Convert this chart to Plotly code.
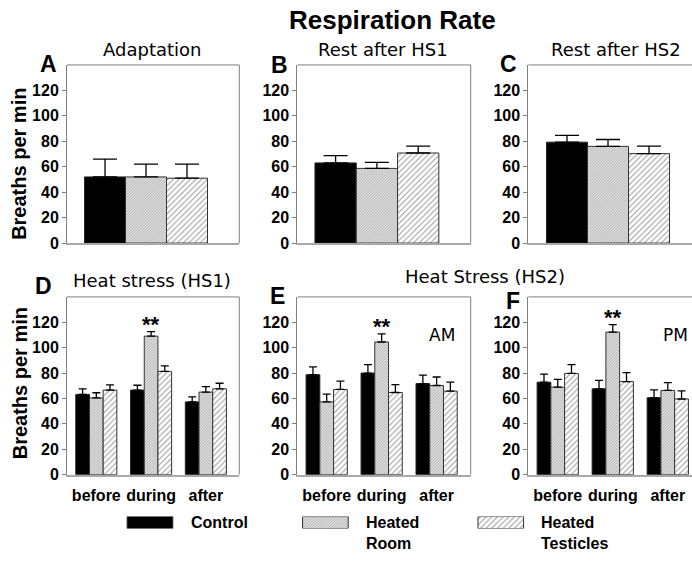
import plotly.graph_objects as go

# ---------------- data ----------------
series_names = ["Control", "Heated<br>Room", "Heated<br>Testicles"]
periods = ["before", "during", "after"]

# top row panels (single group): means and upper SEM
adapt_mean = [52.0, 52.0, 51.0]
adapt_err = [14.0, 10.0, 11.0]
rest1_mean = [63.0, 58.7, 70.8]
rest1_err = [5.7, 4.8, 5.4]
rest2_mean = [79.3, 76.0, 70.3]
rest2_err = [5.4, 5.4, 5.9]

# bottom row panels (before / during / after)
hs1_control = [63.2, 66.6, 57.3]
hs1_control_err = [4.4, 3.8, 3.9]
hs1_room = [60.4, 109.1, 65.0]
hs1_room_err = [4.1, 3.6, 4.4]
hs1_test = [66.6, 81.3, 67.6]
hs1_test_err = [4.1, 4.3, 4.4]

hs2am_control = [78.7, 80.0, 71.7]
hs2am_control_err = [6.2, 6.7, 6.7]
hs2am_room = [57.3, 104.5, 70.2]
hs2am_room_err = [6.2, 6.4, 6.7]
hs2am_test = [67.1, 64.7, 65.8]
hs2am_test_err = [6.5, 6.2, 7.0]

hs2pm_control = [72.8, 67.6, 60.6]
hs2pm_control_err = [6.4, 6.7, 6.2]
hs2pm_room = [68.9, 112.3, 66.3]
hs2pm_room_err = [6.2, 5.9, 6.2]
hs2pm_test = [79.7, 73.3, 59.6]
hs2pm_test_err = [7.0, 7.0, 6.4]

y_ticks = [0, 20, 40, 60, 80, 100, 120]

# ---------------- styles ----------------
FONT = "Liberation Sans, Arial, sans-serif"
TFONT = "DejaVu Sans, Liberation Sans, sans-serif"
markers = [
    dict(color="black", line=dict(color="#222", width=1)),
    dict(color="white", line=dict(color="#333", width=1),
         pattern=dict(shape="/", size=2, solidity=0.5, fgcolor="#3a3a3a", bgcolor="white")),
    dict(color="white", line=dict(color="#333", width=1),
         pattern=dict(shape="/", size=4, solidity=0.25, fgcolor="#333", bgcolor="white")),
]


def xn(i):
    return "x" if i == 1 else f"x{i}"


def yn(i):
    return "y" if i == 1 else f"y{i}"


fig = go.Figure()

# panel geometry: (x domain, y domain, x range, right border?, tick labels?)
top_y = [1 - 247 / 567, 1 - 66 / 567]
bot_y = [1 - 482.3 / 567, 1 - 301.7 / 567]
xA = [67 / 692, 239.3 / 692]
xB = [297.3 / 692, 470.7 / 692]
xC = [528.3 / 692, 1.0]
panels = [
    (xA, top_y, [-0.482, 0.569], True, False),
    (xB, top_y, [-0.482, 0.568], True, False),
    (xC, top_y, [-0.486, 0.512], False, False),
    (xA, bot_y, [-0.535, 2.61], True, True),
    (xB, bot_y, [-0.535, 2.62], True, True),
    (xC, bot_y, [-0.535, 2.44], False, True),
]

top_data = [(adapt_mean, adapt_err), (rest1_mean, rest1_err), (rest2_mean, rest2_err)]
for p, (means, errs) in enumerate(top_data):
    ax = p + 1
    for s in range(3):
        fig.add_trace(go.Bar(
            x=[0], y=[means[s]], name=series_names[s], marker=markers[s],
            error_y=dict(type="data", symmetric=False, array=[errs[s]], arrayminus=[0],
                         color="black", thickness=1.3, width=12),
            xaxis=xn(ax), yaxis=yn(ax), showlegend=False))

bot_data = [
    [(hs1_control, hs1_control_err), (hs1_room, hs1_room_err), (hs1_test, hs1_test_err)],
    [(hs2am_control, hs2am_control_err), (hs2am_room, hs2am_room_err), (hs2am_test, hs2am_test_err)],
    [(hs2pm_control, hs2pm_control_err), (hs2pm_room, hs2pm_room_err), (hs2pm_test, hs2pm_test_err)],
]
for p, group in enumerate(bot_data):
    ax = p + 4
    for s, (vals, errs) in enumerate(group):
        fig.add_trace(go.Bar(
            x=periods, y=vals, name=series_names[s], marker=markers[s],
            error_y=dict(type="data", symmetric=False, array=errs, arrayminus=[0] * len(errs),
                         color="black", thickness=1.3, width=4),
            xaxis=xn(ax), yaxis=yn(ax), showlegend=False))

# legend swatches drawn on a hidden axis
for s in range(3):
    fig.add_trace(go.Bar(
        x=[s], y=[1], width=[0.26], offset=-0.13, marker=markers[s],
        xaxis="x7", yaxis="y7", showlegend=False, hoverinfo="skip"))

layout = dict(
    width=692, height=567, margin=dict(l=0, r=0, t=0, b=0),
    paper_bgcolor="white", plot_bgcolor="white",
    barmode="group", bargap=0.25, bargroupgap=0,
    font=dict(family=FONT, color="black"),
)
shapes = []
for i, (xd, yd, xr, right, bottom) in enumerate(panels):
    ax = i + 1
    xa = dict(
        domain=xd, range=xr, anchor=yn(ax), showline=True, linecolor="#a8a8a8",
        linewidth=2, showgrid=False, zeroline=False, ticks="",
        showticklabels=bottom, ticklabelstandoff=5,
        tickfont=dict(family=FONT, size=16, weight="bold", color="black"))
    if bottom:
        xa["type"] = "category"
    layout["xaxis" if ax == 1 else f"xaxis{ax}"] = xa
    layout["yaxis" if ax == 1 else f"yaxis{ax}"] = dict(
        domain=yd, range=[0, 140], anchor=xn(ax), tickvals=y_ticks,
        showline=True, linecolor="#808080", linewidth=1, showgrid=False, zeroline=False,
        ticks="outside", ticklen=4, tickcolor="#808080",
        tickfont=dict(family=FONT, size=16, weight="bold", color="black"))
    shapes.append(dict(type="line", xref=f"{xn(ax)} domain", yref=f"{yn(ax)} domain",
                       x0=0, x1=1, y0=1, y1=1, line=dict(color="#808080", width=1)))
    if right:
        shapes.append(dict(type="line", xref=f"{xn(ax)} domain", yref=f"{yn(ax)} domain",
                           x0=1, x1=1, y0=0, y1=1, line=dict(color="#808080", width=1)))
layout["xaxis7"] = dict(domain=[0, 1], range=[-0.855, 3.090], anchor="y7", visible=False)
layout["yaxis7"] = dict(domain=[1 - 537 / 567, 1 - 524.9 / 567], range=[0, 1], anchor="x7", visible=False)
layout["shapes"] = shapes

fig.update_layout(**layout)


def px(x, y):
    return x / 692, 1 - y / 567


def ann(text, x, y, size, bold=False, family=FONT, xanchor="center", yanchor="middle", angle=0):
    ax_, ay_ = px(x, y)
    fig.add_annotation(text=text, x=ax_, y=ay_, xref="paper", yref="paper",
                       showarrow=False, xanchor=xanchor, yanchor=yanchor, textangle=angle,
                       align="left",
                       font=dict(family=family, size=size, color="black",
                                 weight="bold" if bold else "normal"))


ann("Respiration Rate", 392, 20.5, 26, bold=True)
ann("Adaptation", 152, 50, 18, family=TFONT)
ann("Rest after HS1", 383, 50, 18, family=TFONT)
ann("Rest after HS2", 616, 50, 18, family=TFONT)
ann("Heat stress (HS1)", 152, 285, 18, family=TFONT)
ann("Heat Stress (HS2)", 485, 281, 18, family=TFONT)
ann("AM", 441.7, 340, 17, family=TFONT)
ann("PM", 675, 340, 17, family=TFONT)

for letter, x, y in [("A", 48.7, 65.5), ("B", 279.5, 65.8), ("C", 508.5, 65),
                     ("D", 43.5, 291), ("E", 277, 301), ("F", 512.5, 306)]:
    ann(letter, x, y, 23, bold=True)

ann("Breaths per min", 19, 166.5, 20, bold=True, angle=-90)
ann("Breaths per min", 19.5, 390, 20, bold=True, angle=-90)

# significance marks above heated-room "during" bars
for ax, vals, errs in [(4, hs1_room, hs1_room_err), (5, hs2am_room, hs2am_room_err),
                       (6, hs2pm_room, hs2pm_room_err)]:
    fig.add_annotation(text="**", x="during", y=vals[1] + errs[1], xref=xn(ax), yref=yn(ax),
                       showarrow=False, yanchor="bottom", yshift=-7,
                       font=dict(family=FONT, size=22, weight="bold", color="black"))

# legend texts
ann(series_names[0], 188.7, 531, 16, bold=True, xanchor="left")
ann(series_names[1], 364.3, 541.5, 16, bold=True, xanchor="left")
ann(series_names[2], 539, 541.5, 16, bold=True, xanchor="left")

fig.write_html("out.html", config={"displayModeBar": False},
               post_script="document.body.style.margin='0px';")
